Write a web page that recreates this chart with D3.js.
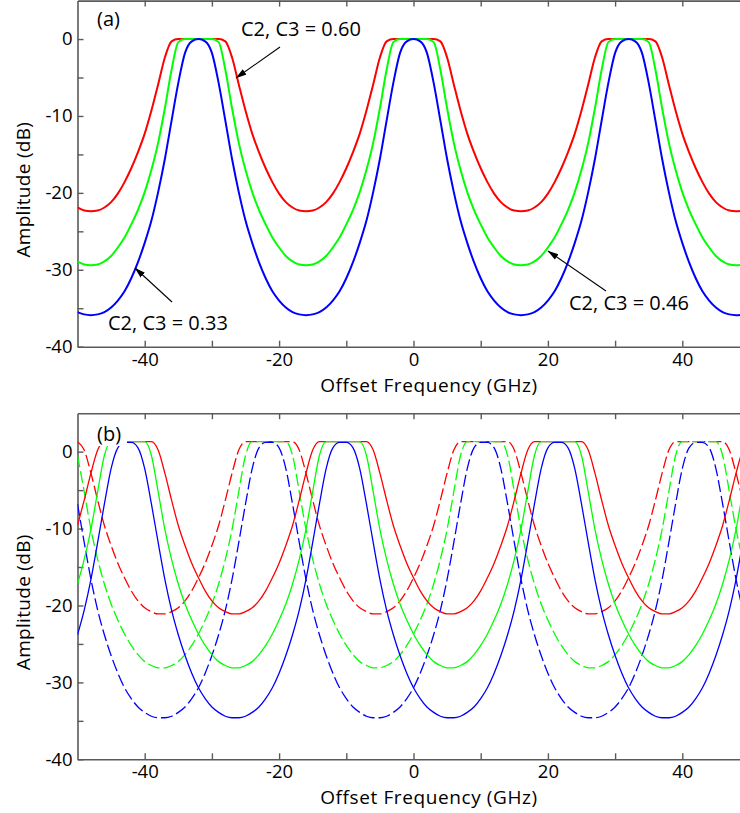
<!DOCTYPE html>
<html>
<head>
<meta charset="utf-8">
<script src="https://cdn.jsdelivr.net/npm/d3@7"></script>
<style>
  html, body { margin: 0; padding: 0; background: #fff; }
  svg { display: block; }
  text { font-family: "Open Sans", "DejaVu Sans", sans-serif; fill: #000; }
</style>
</head>
<body>
<div id="chart"></div>
<script>
// ---------------- data ----------------
const freqGHz = [-50,-49,-48,-47,-46,-45,-44,-43,-42,-41,-40,-39,-38,-37,-36,-35,-34,-33,-32,-31,-30,-29,-28,-27,-26,-25,-24,-23,-22,-21,-20,-19,-18,-17,-16,-15,-14,-13,-12,-11,-10,-9,-8,-7,-6,-5,-4,-3,-2,-1,0,1,2,3,4,5,6,7,8,9,10,11,12,13,14,15,16,17,18,19,20,21,22,23,24,25,26,27,28,29,30,31,32,33,34,35,36,37,38,39,40,41,42,43,44,45,46,47,48,49,50];

// Panel (a)
const ampA_c060 = [-21.9,-22.3,-22.4,
  -22.3,-21.9,-21.2,-20.1,-18.6,-16.8,-14.7,-12.3,-9.3,-5.9,-2.4,-0.3,0,0,0,0,
  0,0,0,-0.3,-2.4,-5.9,-9.3,-12.3,-14.7,-16.8,-18.6,-20.1,-21.2,-21.9,-22.3,-22.4,
  -22.3,-21.9,-21.2,-20.1,-18.6,-16.8,-14.7,-12.3,-9.3,-5.9,-2.4,-0.3,0,0,0,0,
  0,0,0,-0.3,-2.4,-5.9,-9.3,-12.3,-14.7,-16.8,-18.6,-20.1,-21.2,-21.9,-22.3,-22.4,
  -22.3,-21.9,-21.2,-20.1,-18.6,-16.8,-14.7,-12.3,-9.3,-5.9,-2.4,-0.3,0,0,0,0,
  0,0,0,-0.3,-2.4,-5.9,-9.3,-12.3,-14.7,-16.8,-18.6,-20.1,-21.2,-21.9,-22.3,-22.4,
  -22.3,-21.9];
const ampA_c046 = [-28.9,-29.3,-29.4,
  -29.3,-28.9,-28.2,-27.1,-25.8,-24.1,-22.2,-19.9,-17.0,-13.5,-9.0,-4.0,-0.4,0,0,0,
  0,0,-0.4,-4.0,-9.0,-13.5,-17.0,-19.9,-22.2,-24.1,-25.8,-27.1,-28.2,-28.9,-29.3,-29.4,
  -29.3,-28.9,-28.2,-27.1,-25.8,-24.1,-22.2,-19.9,-17.0,-13.5,-9.0,-4.0,-0.4,0,0,0,
  0,0,-0.4,-4.0,-9.0,-13.5,-17.0,-19.9,-22.2,-24.1,-25.8,-27.1,-28.2,-28.9,-29.3,-29.4,
  -29.3,-28.9,-28.2,-27.1,-25.8,-24.1,-22.2,-19.9,-17.0,-13.5,-9.0,-4.0,-0.4,0,0,0,
  0,0,-0.4,-4.0,-9.0,-13.5,-17.0,-19.9,-22.2,-24.1,-25.8,-27.1,-28.2,-28.9,-29.3,-29.4,
  -29.3,-28.9];
const ampA_c033 = [-35.5,-35.8,-35.9,
  -35.8,-35.5,-34.9,-34.0,-32.8,-31.1,-29.0,-26.5,-23.6,-19.9,-15.6,-10.6,-5.7,-1.8,-0.3,0,
  -0.3,-1.8,-5.7,-10.6,-15.6,-19.9,-23.6,-26.5,-29.0,-31.1,-32.8,-34.0,-34.9,-35.5,-35.8,-35.9,
  -35.8,-35.5,-34.9,-34.0,-32.8,-31.1,-29.0,-26.5,-23.6,-19.9,-15.6,-10.6,-5.7,-1.8,-0.3,0,
  -0.3,-1.8,-5.7,-10.6,-15.6,-19.9,-23.6,-26.5,-29.0,-31.1,-32.8,-34.0,-34.9,-35.5,-35.8,-35.9,
  -35.8,-35.5,-34.9,-34.0,-32.8,-31.1,-29.0,-26.5,-23.6,-19.9,-15.6,-10.6,-5.7,-1.8,-0.3,0,
  -0.3,-1.8,-5.7,-10.6,-15.6,-19.9,-23.6,-26.5,-29.0,-31.1,-32.8,-34.0,-34.9,-35.5,-35.8,-35.9,
  -35.8,-35.5];

// Panel (b): solid and dashed traces
const ampB_c060_solid = [-9.6,-6.3,-2.8,0.2,1.3,1.3,1.3,1.3,1.3,1.3,1.3,1.3,0.2,-2.8,-6.3,-9.6,-12.2,-14.5,-16.4,-18.1,-19.4,-20.3,-20.8,-21.1,
  -21.1,-20.8,-20.3,-19.4,-18.1,-16.4,-14.5,-12.2,-9.6,-6.3,-2.8,0.2,1.3,1.3,1.3,1.3,1.3,1.3,1.3,1.3,0.2,-2.8,-6.3,-9.6,-12.2,-14.5,-16.4,-18.1,-19.4,-20.3,-20.8,-21.1,
  -21.1,-20.8,-20.3,-19.4,-18.1,-16.4,-14.5,-12.2,-9.6,-6.3,-2.8,0.2,1.3,1.3,1.3,1.3,1.3,1.3,1.3,1.3,0.2,-2.8,-6.3,-9.6,-12.2,-14.5,-16.4,-18.1,-19.4,-20.3,-20.8,-21.1,
  -21.1,-20.8,-20.3,-19.4,-18.1,-16.4,-14.5,-12.2,-9.6,-6.3,-2.8,0.2,1.3];
const ampB_c060_dashed = [1.3,0.2,-2.8,-6.3,-9.6,-12.2,-14.5,-16.4,-18.1,-19.4,-20.3,-20.8,-21.1,
  -21.1,-20.8,-20.3,-19.4,-18.1,-16.4,-14.5,-12.2,-9.6,-6.3,-2.8,0.2,1.3,1.3,1.3,1.3,1.3,1.3,1.3,1.3,0.2,-2.8,-6.3,-9.6,-12.2,-14.5,-16.4,-18.1,-19.4,-20.3,-20.8,-21.1,
  -21.1,-20.8,-20.3,-19.4,-18.1,-16.4,-14.5,-12.2,-9.6,-6.3,-2.8,0.2,1.3,1.3,1.3,1.3,1.3,1.3,1.3,1.3,0.2,-2.8,-6.3,-9.6,-12.2,-14.5,-16.4,-18.1,-19.4,-20.3,-20.8,-21.1,
  -21.1,-20.8,-20.3,-19.4,-18.1,-16.4,-14.5,-12.2,-9.6,-6.3,-2.8,0.2,1.3,1.3,1.3,1.3,1.3,1.3,1.3,1.3,0.2,-2.8,-6.3,-9.6];
const ampB_c046_solid = [-17.2,-14.0,-10.1,-5.2,-0.5,1.3,1.3,1.3,1.3,1.3,1.3,-0.5,-5.2,-10.1,-14.0,-17.2,-19.8,-21.9,-23.7,-25.2,-26.4,-27.3,-27.8,-28.1,
  -28.1,-27.8,-27.3,-26.4,-25.2,-23.7,-21.9,-19.8,-17.2,-14.0,-10.1,-5.2,-0.5,1.3,1.3,1.3,1.3,1.3,1.3,-0.5,-5.2,-10.1,-14.0,-17.2,-19.8,-21.9,-23.7,-25.2,-26.4,-27.3,-27.8,-28.1,
  -28.1,-27.8,-27.3,-26.4,-25.2,-23.7,-21.9,-19.8,-17.2,-14.0,-10.1,-5.2,-0.5,1.3,1.3,1.3,1.3,1.3,1.3,-0.5,-5.2,-10.1,-14.0,-17.2,-19.8,-21.9,-23.7,-25.2,-26.4,-27.3,-27.8,-28.1,
  -28.1,-27.8,-27.3,-26.4,-25.2,-23.7,-21.9,-19.8,-17.2,-14.0,-10.1,-5.2,-0.5];
const ampB_c046_dashed = [-0.5,-5.2,-10.1,-14.0,-17.2,-19.8,-21.9,-23.7,-25.2,-26.4,-27.3,-27.8,-28.1,
  -28.1,-27.8,-27.3,-26.4,-25.2,-23.7,-21.9,-19.8,-17.2,-14.0,-10.1,-5.2,-0.5,1.3,1.3,1.3,1.3,1.3,1.3,-0.5,-5.2,-10.1,-14.0,-17.2,-19.8,-21.9,-23.7,-25.2,-26.4,-27.3,-27.8,-28.1,
  -28.1,-27.8,-27.3,-26.4,-25.2,-23.7,-21.9,-19.8,-17.2,-14.0,-10.1,-5.2,-0.5,1.3,1.3,1.3,1.3,1.3,1.3,-0.5,-5.2,-10.1,-14.0,-17.2,-19.8,-21.9,-23.7,-25.2,-26.4,-27.3,-27.8,-28.1,
  -28.1,-27.8,-27.3,-26.4,-25.2,-23.7,-21.9,-19.8,-17.2,-14.0,-10.1,-5.2,-0.5,1.3,1.3,1.3,1.3,1.3,1.3,-0.5,-5.2,-10.1,-14.0,-17.2];
const ampB_c033_solid = [-23.8,-20.6,-16.6,-11.8,-6.8,-2.2,0.5,1.2,1.2,0.5,-2.2,-6.8,-11.8,-16.6,-20.6,-23.8,-26.5,-28.8,-30.7,-32.1,-33.2,-33.9,-34.4,-34.6,
  -34.6,-34.4,-33.9,-33.2,-32.1,-30.7,-28.8,-26.5,-23.8,-20.6,-16.6,-11.8,-6.8,-2.2,0.5,1.2,1.2,0.5,-2.2,-6.8,-11.8,-16.6,-20.6,-23.8,-26.5,-28.8,-30.7,-32.1,-33.2,-33.9,-34.4,-34.6,
  -34.6,-34.4,-33.9,-33.2,-32.1,-30.7,-28.8,-26.5,-23.8,-20.6,-16.6,-11.8,-6.8,-2.2,0.5,1.2,1.2,0.5,-2.2,-6.8,-11.8,-16.6,-20.6,-23.8,-26.5,-28.8,-30.7,-32.1,-33.2,-33.9,-34.4,-34.6,
  -34.6,-34.4,-33.9,-33.2,-32.1,-30.7,-28.8,-26.5,-23.8,-20.6,-16.6,-11.8,-6.8];
const ampB_c033_dashed = [-6.8,-11.8,-16.6,-20.6,-23.8,-26.5,-28.8,-30.7,-32.1,-33.2,-33.9,-34.4,-34.6,
  -34.6,-34.4,-33.9,-33.2,-32.1,-30.7,-28.8,-26.5,-23.8,-20.6,-16.6,-11.8,-6.8,-2.2,0.5,1.2,1.2,0.5,-2.2,-6.8,-11.8,-16.6,-20.6,-23.8,-26.5,-28.8,-30.7,-32.1,-33.2,-33.9,-34.4,-34.6,
  -34.6,-34.4,-33.9,-33.2,-32.1,-30.7,-28.8,-26.5,-23.8,-20.6,-16.6,-11.8,-6.8,-2.2,0.5,1.2,1.2,0.5,-2.2,-6.8,-11.8,-16.6,-20.6,-23.8,-26.5,-28.8,-30.7,-32.1,-33.2,-33.9,-34.4,-34.6,
  -34.6,-34.4,-33.9,-33.2,-32.1,-30.7,-28.8,-26.5,-23.8,-20.6,-16.6,-11.8,-6.8,-2.2,0.5,1.2,1.2,0.5,-2.2,-6.8,-11.8,-16.6,-20.6,-23.8];

const xTickValues = [-40,-30,-20,-10,0,10,20,30,40];
const xTickLabels = ["-40","","-20","","0","","20","","40"];
const yTickValues = [0,-5,-10,-15,-20,-25,-30,-35,-40];
const yTickLabels = ["0","","-10","","-20","","-30","","-40"];
const annotationTexts = ["C2, C3 = 0.60", "C2, C3 = 0.33", "C2, C3 = 0.46"];
const panelLabels = ["(a)", "(b)"];
const xTitle = "Offset Frequency (GHz)";
const yTitle = "Amplitude (dB)";

// ---------------- drawing ----------------
const W = 740, H = 813;
const svg = d3.select("#chart").append("svg").attr("width", W).attr("height", H);

const defs = svg.append("defs");
defs.append("marker").attr("id", "arrow")
  .attr("viewBox", "0 -4 11 8").attr("refX", 10.5).attr("refY", 0)
  .attr("markerUnits", "userSpaceOnUse")
  .attr("markerWidth", 11).attr("markerHeight", 8).attr("orient", "auto")
  .append("path").attr("d", "M0,-3.2L11,0L0,3.2Z").attr("fill", "#000");

const x = d3.scaleLinear().domain([-50, 50]).range([77.5, 749.5]);
const AXIS_COLOR = "#5a5a5a";

function panel(idx, yTop, yBottom) {
  const y = d3.scaleLinear().domain([-40, 5]).range([yBottom, yTop]);
  const g = svg.append("g");
  const clipId = "clip" + idx;
  defs.append("clipPath").attr("id", clipId).append("rect")
    .attr("x", x(-50)).attr("y", y(5)).attr("width", x(50) - x(-50)).attr("height", y(-40) - y(5));

  const styleAxis = sel => {
    sel.selectAll("path.domain").attr("stroke", AXIS_COLOR).attr("stroke-width", 1.6);
    sel.selectAll(".tick line").attr("stroke", AXIS_COLOR).attr("stroke-width", 1.4);
    sel.selectAll(".tick text").attr("font-family", "'Open Sans', sans-serif").attr("font-size", 18.5).attr("fill", "#000");
  };

  g.append("g").attr("transform", `translate(0,${y(-40)})`)
    .call(d3.axisBottom(x).tickValues(xTickValues).tickSizeInner(-6).tickSizeOuter(0).tickPadding(6)
      .tickFormat((d, i) => xTickLabels[i]))
    .call(styleAxis);
  g.append("g").attr("transform", `translate(0,${y(5)})`)
    .call(d3.axisTop(x).tickValues(xTickValues).tickSizeInner(-6).tickSizeOuter(0).tickFormat(""))
    .call(styleAxis);
  g.append("g").attr("transform", `translate(${x(-50)},0)`)
    .call(d3.axisLeft(y).tickValues(yTickValues).tickSizeInner(-6).tickSizeOuter(0).tickPadding(5)
      .tickFormat((d, i) => yTickLabels[i]))
    .call(styleAxis);
  g.append("g").attr("transform", `translate(${x(50)},0)`)
    .call(d3.axisRight(y).tickValues(yTickValues).tickSizeInner(-6).tickSizeOuter(0).tickFormat(""))
    .call(styleAxis);

  g.append("text").attr("x", 429).attr("y", y(-40) + 45)
    .attr("text-anchor", "middle").attr("font-size", 19).attr("letter-spacing", 0.6).text(xTitle);
  g.append("text").attr("transform", `translate(30,${(y(5) + y(-40)) / 2 + 16}) rotate(-90)`)
    .attr("text-anchor", "middle").attr("font-size", 19).attr("letter-spacing", 0.3).text(yTitle);

  const plot = g.append("g").attr("clip-path", `url(#${clipId})`);
  return { y, g, plot };
}

function drawLine(plot, y, values, color, width, dash) {
  const line = d3.line().x((d, i) => x(freqGHz[i])).y(d => y(d)).curve(d3.curveMonotoneX);
  const p = plot.append("path").datum(values)
    .attr("d", line).attr("fill", "none").attr("stroke", color)
    .attr("stroke-width", width).attr("stroke-linejoin", "round");
  if (dash) p.attr("stroke-dasharray", dash);
}

// Panel (a)
const A = panel(0, 0.6, 346.7);
drawLine(A.plot, A.y, ampA_c060, "#ff0000", 2);
drawLine(A.plot, A.y, ampA_c046, "#00ff00", 2);
drawLine(A.plot, A.y, ampA_c033, "#0000ff", 2);

A.g.append("text").attr("x", 97).attr("y", 26).attr("font-size", 20).text(panelLabels[0]);

// annotations
function annotate(text, tx, ty, x1, y1, x2, y2) {
  svg.append("line").attr("x1", x1).attr("y1", y1).attr("x2", x2).attr("y2", y2)
    .attr("stroke", "#000").attr("stroke-width", 1.1).attr("marker-end", "url(#arrow)");
  svg.append("text").attr("x", tx).attr("y", ty).attr("font-size", 20).text(text);
}
annotate(annotationTexts[0], 241, 36, 280, 47, 236, 78);
annotate(annotationTexts[1], 108, 330, 172, 302, 135, 268);
annotate(annotationTexts[2], 569, 310, 606, 291, 548, 251);

// Panel (b)
const B = panel(1, 413.2, 759.3);
drawLine(B.plot, B.y, ampB_c060_dashed, "#ff0000", 1.3, "12,4");
drawLine(B.plot, B.y, ampB_c046_dashed, "#00ff00", 1.3, "12,4");
drawLine(B.plot, B.y, ampB_c033_dashed, "#0000ff", 1.3, "12,4");
drawLine(B.plot, B.y, ampB_c060_solid, "#ff0000", 1.3);
drawLine(B.plot, B.y, ampB_c046_solid, "#00ff00", 1.3);
drawLine(B.plot, B.y, ampB_c033_solid, "#0000ff", 1.3);

B.g.append("rect").attr("x", 96).attr("y", 422).attr("width", 31).attr("height", 24).attr("fill", "#fff");
B.g.append("text").attr("x", 97).attr("y", 441).attr("font-size", 20).text(panelLabels[1]);
</script>
</body>
</html>
